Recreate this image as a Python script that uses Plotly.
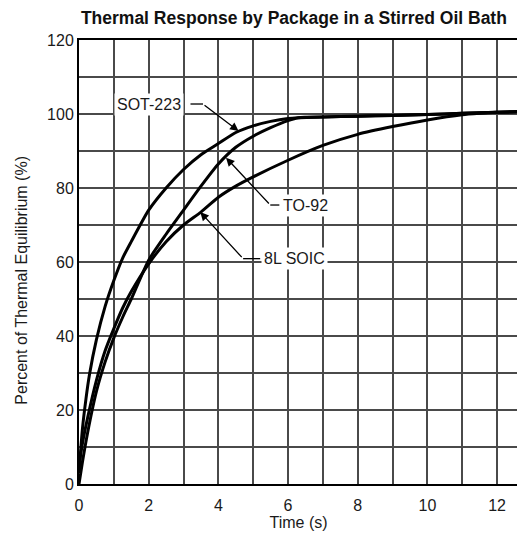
import plotly.graph_objects as go

# ---- data ----
sot_t = [0, 0.1, 0.2, 0.3, 0.5, 0.75, 1.0, 1.25, 1.5, 2.0, 2.5, 3.0, 3.5, 4.0, 4.5, 5.0, 5.5, 6.0, 6.3, 7, 8, 9, 10, 11, 12, 12.6]
sot_v = [3, 15, 23, 29.5, 39, 48, 55, 61, 65.5, 74, 80, 85, 89, 92, 95, 96.8, 98, 98.8, 99.0, 99.2, 99.4, 99.6, 99.85, 100.2, 100.5, 100.6]

to92_t = [0, 0.1, 0.25, 0.5, 0.75, 1.0, 1.25, 1.5, 2.0, 2.5, 3.0, 3.5, 4.0, 4.5, 5.0, 5.5, 6.0, 6.3, 7, 8, 9, 10, 11, 12, 12.6]
to92_v = [0, 6, 14, 25, 33, 39.5, 45, 50, 60.5, 67.5, 74, 80.5, 86.5, 91, 94, 96.3, 98.2, 99.0, 99.2, 99.4, 99.6, 99.85, 100.2, 100.5, 100.6]

soic_t = [0, 0.1, 0.25, 0.5, 0.75, 1.0, 1.25, 1.5, 2.0, 2.5, 3.0, 3.5, 4.0, 4.5, 5.0, 6.0, 7.0, 8.0, 9.0, 10.0, 11.0, 11.5, 12.0, 12.6]
soic_v = [5, 11, 18, 28, 36, 42, 47.5, 52, 59.5, 65.5, 70, 73.5, 77.5, 80.5, 83, 87.5, 91.5, 94.5, 96.6, 98.4, 99.8, 100.2, 100.5, 100.7]

x_ticks = [0, 2, 4, 6, 8, 10, 12]
y_ticks = [0, 20, 40, 60, 80, 100, 120]

SANS = "Liberation Sans, Arial, Helvetica, sans-serif"
TXT = "#1a1a1a"

fig = go.Figure()
for name, t, v in [("SOT-223", sot_t, sot_v), ("TO-92", to92_t, to92_v), ("8L SOIC", soic_t, soic_v)]:
    fig.add_trace(go.Scatter(x=t, y=v, mode="lines", name=name,
                             line=dict(color="black", width=3, shape="spline", smoothing=0.6),
                             showlegend=False))

grid = "#4a4a4a"
fig.update_xaxes(range=[0, 12.6], tickvals=x_ticks, showgrid=True, gridcolor=grid, gridwidth=1.5,
                 minor=dict(dtick=1, tick0=0, showgrid=True, gridcolor=grid, gridwidth=1.5),
                 showline=True, linecolor="black", linewidth=2, mirror=True, zeroline=False,
                 automargin=False, ticks="", ticklabelstandoff=6,
                 tickfont=dict(family=SANS, size=16, color=TXT),
                 title=dict(text="Time (s)", font=dict(family=SANS, size=16, color=TXT), standoff=4))
fig.update_yaxes(range=[0, 120], tickvals=y_ticks, showgrid=True, gridcolor=grid, gridwidth=1.5,
                 minor=dict(dtick=10, tick0=0, showgrid=True, gridcolor=grid, gridwidth=1.5),
                 showline=True, linecolor="black", linewidth=2, mirror=True, zeroline=False,
                 automargin=False, ticks="",
                 tickfont=dict(family=SANS, size=16, color=TXT))

# y-axis title, placed as in the reference (slightly below the plot centre)
fig.add_annotation(text="Percent of Thermal Equilibrium (%)", textangle=-90,
                   xref="paper", yref="paper", x=-0.13, y=0.46, xanchor="center", yanchor="middle",
                   showarrow=False, font=dict(family=SANS, size=16, color=TXT))

ann_font = dict(family=SANS, size=16, color=TXT)
# text labels with white boxes
for txt, x, y in [("SOT-223", 2.01, 102.6), ("TO-92", 6.49, 75.4), ("8L SOIC", 6.18, 60.9)]:
    fig.add_annotation(x=x, y=y, xref="x", yref="y", text=txt, showarrow=False,
                       font=ann_font, bgcolor="white", borderpad=2)
# leader lines: horizontal segment + arrow
leaders = [
    ((3.2, 102.7), (3.56, 102.7), (4.58, 95.4)),
    ((5.75, 75.4), (5.49, 75.4), (4.22, 88.2)),
    ((5.2, 60.9), (4.71, 60.9), (3.48, 73.5)),
]
for (x0, y0), (x1, y1), (xt, yt) in leaders:
    fig.add_shape(type="line", x0=x0, y0=y0, x1=x1, y1=y1, xref="x", yref="y",
                  line=dict(color="black", width=1.3))
    fig.add_annotation(x=xt, y=yt, ax=x1, ay=y1, xref="x", yref="y", axref="x", ayref="y",
                       text="", showarrow=True, arrowhead=2, arrowsize=1.3, arrowwidth=1.3,
                       arrowcolor="black", standoff=0)

fig.update_layout(
    width=517, height=533,
    margin=dict(l=71, r=7, t=32, b=57, autoexpand=False),
    paper_bgcolor="white", plot_bgcolor="white",
    title=dict(text="<b>Thermal Response by Package in a Stirred Oil Bath</b>",
               font=dict(family=SANS, size=17.5, color="#111"),
               x=0.553, xanchor="center", xref="container",
               y=0.982, yanchor="middle", yref="container"),
)

fig.write_html("out.html")
